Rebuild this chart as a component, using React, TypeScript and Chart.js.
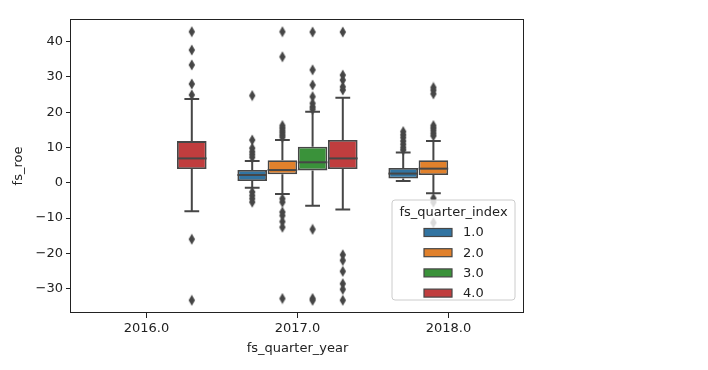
import React, { useEffect, useRef } from 'react';
import { Chart, registerables } from 'chart.js';

Chart.register(...registerables);

// ---------- data ----------
const years = ['2016.0', '2017.0', '2018.0'];
const quarters = ['1.0', '2.0', '3.0', '4.0'];
const colors = ['#3274a1', '#e1812c', '#3a923a', '#c03d3e'];

// rows: quarter index, columns: year index
const whiskerLow: (number | null)[][] = [
  [null, -1.4, 0.5],
  [null, -3.2, -3.0],
  [null, -6.5, null],
  [-8.1, -7.6, null],
];
const q1: (number | null)[][] = [
  [null, 0.5, 1.2],
  [null, 2.4, 2.2],
  [null, 3.5, null],
  [3.9, 3.9, null],
];
const median: (number | null)[][] = [
  [null, 2.2, 2.6],
  [null, 3.6, 4.0],
  [null, 5.8, null],
  [6.9, 6.9, null],
];
const q3: (number | null)[][] = [
  [null, 3.6, 4.2],
  [null, 6.4, 6.4],
  [null, 10.2, null],
  [11.8, 12.1, null],
];
const whiskerHigh: (number | null)[][] = [
  [null, 6.2, 8.6],
  [null, 12.1, 11.8],
  [null, 20.1, null],
  [23.7, 24.1, null],
];
const fliersQ1: number[][] = [
  [],
  [24.7, 12.1, 9.8, 8.8, 8.0, 7.2, -2.6, -3.6, -4.5, -5.5],
  [14.5, 13.6, 12.8, 11.8, 10.9, 10.0, 9.3],
];
const fliersQ2: number[][] = [
  [],
  [42.8, 35.7, 16.2, 15.5, 14.8, 14.2, 13.5, 12.9, -4.5, -5.5, -8.3, -9.3, -11.0, -12.6, -32.8],
  [27.0, 26.2, 25.2, 16.2, 15.5, 14.8, 14.0, 13.3, -4.4, -5.5, -11.3],
];
const fliersQ3: number[][] = [
  [],
  [42.7, 32.0, 27.7, 24.4, 22.5, 21.5, 20.8, -13.2, -32.8, -33.3],
  [],
];
const fliersQ4: number[][] = [
  [42.8, 37.6, 33.4, 28.0, 24.9, -16.0, -33.3],
  [42.7, 30.5, 29.1, 27.2, 26.3, -20.4, -22.0, -25.1, -28.6, -30.2, -33.3],
  [],
];
const fliers = [fliersQ1, fliersQ2, fliersQ3, fliersQ4];

const yMin = -36.9;
const yMax = 46.4;
const yStep = 10;

const xTitle = 'fs_quarter_year';
const yTitle = 'fs_roe';
const legendTitle = 'fs_quarter_index';

// ---------- styling ----------
const gray = '#464646';
const textColor = '#222222';
const FONT = 'DejaVu Sans';
const font = { family: FONT, size: 13 };
const groupWidth = 0.8; // seaborn default box group width (fraction of a category)

function hueOffset(qi: number) {
  const slot = groupWidth / quarters.length;
  return (qi - (quarters.length - 1) / 2) * slot;
}

function makeDiamond() {
  const c = document.createElement('canvas');
  c.width = 8;
  c.height = 12;
  const g = c.getContext('2d')!;
  g.fillStyle = gray;
  g.beginPath();
  g.moveTo(4, 0.5);
  g.lineTo(7.2, 6);
  g.lineTo(4, 11.5);
  g.lineTo(0.8, 6);
  g.closePath();
  g.fill();
  return c;
}

const boxPlugin = {
  id: 'boxParts',
  afterDatasetDraw(chart: any, args: any) {
    const ds = chart.data.datasets[args.index];
    if (ds.type !== 'bar') return;
    const qi = ds.qIndex as number;
    const meta = chart.getDatasetMeta(args.index);
    const yS = chart.scales.y;
    const ctx = chart.ctx;
    ctx.save();
    ctx.strokeStyle = gray;
    ctx.lineWidth = 2;
    meta.data.forEach((el: any, j: number) => {
      const yi = ds.data[j].yi as number;
      const x = el.x;
      const w = el.width;
      const pLow = yS.getPixelForValue(whiskerLow[qi][yi]);
      const pQ1 = yS.getPixelForValue(q1[qi][yi]);
      const pQ3 = yS.getPixelForValue(q3[qi][yi]);
      const pHigh = yS.getPixelForValue(whiskerHigh[qi][yi]);
      const pMed = yS.getPixelForValue(median[qi][yi]);
      ctx.beginPath();
      ctx.moveTo(x, pQ1);
      ctx.lineTo(x, pLow);
      ctx.moveTo(x, pQ3);
      ctx.lineTo(x, pHigh);
      ctx.moveTo(x - w / 4, pLow);
      ctx.lineTo(x + w / 4, pLow);
      ctx.moveTo(x - w / 4, pHigh);
      ctx.lineTo(x + w / 4, pHigh);
      ctx.stroke();
      ctx.beginPath();
      ctx.moveTo(x - w / 2, pMed);
      ctx.lineTo(x + w / 2, pMed);
      ctx.stroke();
    });
    ctx.restore();
  },
};

const framePlugin = {
  id: 'frameAndLegend',
  afterDraw(chart: any) {
    const { ctx, chartArea } = chart;
    ctx.save();
    // frame
    ctx.strokeStyle = textColor;
    ctx.lineWidth = 1;
    const l = Math.round(chartArea.left) - 0.5;
    const t = Math.round(chartArea.top) + 0.5;
    const r = Math.round(chartArea.right) - 0.5;
    const b = Math.round(chartArea.bottom) - 0.5;
    ctx.strokeRect(l, t, r - l, b - t);

    // legend
    const w = 123;
    const h = 100;
    const x = chartArea.right - 9 - w;
    const y = chartArea.bottom - 13 - h;
    const rad = 3;
    ctx.beginPath();
    ctx.moveTo(x + rad, y);
    ctx.lineTo(x + w - rad, y);
    ctx.quadraticCurveTo(x + w, y, x + w, y + rad);
    ctx.lineTo(x + w, y + h - rad);
    ctx.quadraticCurveTo(x + w, y + h, x + w - rad, y + h);
    ctx.lineTo(x + rad, y + h);
    ctx.quadraticCurveTo(x, y + h, x, y + h - rad);
    ctx.lineTo(x, y + rad);
    ctx.quadraticCurveTo(x, y, x + rad, y);
    ctx.closePath();
    ctx.fillStyle = 'rgba(255,255,255,0.8)';
    ctx.fill();
    ctx.strokeStyle = '#cccccc';
    ctx.lineWidth = 1;
    ctx.stroke();

    ctx.font = `13px "${FONT}"`;
    ctx.fillStyle = textColor;
    ctx.textAlign = 'center';
    ctx.textBaseline = 'middle';
    ctx.fillText(legendTitle, x + w / 2, y + 13);
    ctx.textAlign = 'left';
    quarters.forEach((q, i) => {
      const cy = y + 32.5 + i * 20.2;
      ctx.fillStyle = colors[i];
      ctx.fillRect(x + 32, cy - 4, 28, 8);
      ctx.strokeStyle = gray;
      ctx.lineWidth = 1.2;
      ctx.strokeRect(x + 32, cy - 4, 28, 8);
      ctx.fillStyle = textColor;
      ctx.fillText(q, x + 71, cy + 0.5);
    });
    ctx.restore();
  },
};

export default function App() {
  const ref = useRef<HTMLCanvasElement | null>(null);

  useEffect(() => {
    document.body.style.margin = '0';
    const canvas = ref.current;
    if (!canvas) return;
    const diamond = makeDiamond();

    const flierPoints: { x: number; y: number }[] = [];
    fliers.forEach((perYear, qi) => {
      perYear.forEach((vals, yi) => {
        vals.forEach((v) => {
          flierPoints.push({ x: yi + hueOffset(qi), y: v });
        });
      });
    });

    const barSets = quarters.map((q, qi) => ({
      type: 'bar' as const,
      label: q,
      qIndex: qi,
      data: years
        .map((_, yi) => ({ yi, x: yi + hueOffset(qi), y: [q1[qi][yi], q3[qi][yi]] }))
        .filter((d) => d.y[0] != null),
      backgroundColor: colors[qi],
      borderColor: gray,
      borderWidth: 1.8,
      borderSkipped: false,
      grouped: false,
      categoryPercentage: 1,
      barPercentage: 0.98,
      order: 1,
    }));

    const chart = new Chart(canvas, {
      type: 'bar',
      data: {
        datasets: [
          {
            type: 'scatter' as const,
            label: 'fliers',
            data: flierPoints,
            pointStyle: diamond as any,
            pointRadius: 4,
            showLine: false,
            order: 0,
          } as any,
          ...(barSets as any[]),
        ],
      },
      options: {
        responsive: false,
        animation: false,
        events: [],
        devicePixelRatio: 1,
        layout: { padding: { left: 0, right: 184, top: 19, bottom: 0 } },
        plugins: {
          legend: { display: false },
          tooltip: { enabled: false },
        },
        scales: {
          x: {
            type: 'linear',
            min: -0.5,
            max: 2.5,
            offset: false,
            grid: {
              drawOnChartArea: false,
              drawTicks: true,
              tickLength: 5,
              color: textColor,
              offset: false,
            },
            border: { display: false },
            afterBuildTicks: (s: any) => {
              s.ticks = years.map((_, i) => ({ value: i }));
            },
            ticks: {
              font,
              color: textColor,
              padding: 3,
              maxRotation: 0,
              autoSkip: false,
              callback: (v: any) => years[Math.round(Number(v))] ?? '',
            },
            title: {
              display: true,
              text: xTitle,
              font,
              color: textColor,
              padding: { top: 0, bottom: 14 },
            },
            afterFit: (s: any) => {
              s.height = 57;
            },
          },
          y: {
            type: 'linear',
            min: yMin,
            max: yMax,
            grid: {
              drawOnChartArea: false,
              drawTicks: true,
              tickLength: 5,
              color: textColor,
            },
            border: { display: false },
            ticks: {
              stepSize: yStep,
              includeBounds: false,
              font,
              color: textColor,
              padding: 3,
              callback: (v: any) => String(v).replace('-', '\u2212'),
            },
            title: {
              display: true,
              text: yTitle,
              font,
              color: textColor,
              padding: { top: 10.5, bottom: 0 },
            },
            afterFit: (s: any) => {
              s.width = 71;
            },
          },
        },
      } as any,
      plugins: [boxPlugin, framePlugin],
    });

    return () => chart.destroy();
  }, []);

  return (
    <div style={{ position: 'absolute', left: 0, top: 0, width: 708, height: 370 }}>
      <canvas ref={ref} width={708} height={370} style={{ width: 708, height: 370 }} />
    </div>
  );
}
